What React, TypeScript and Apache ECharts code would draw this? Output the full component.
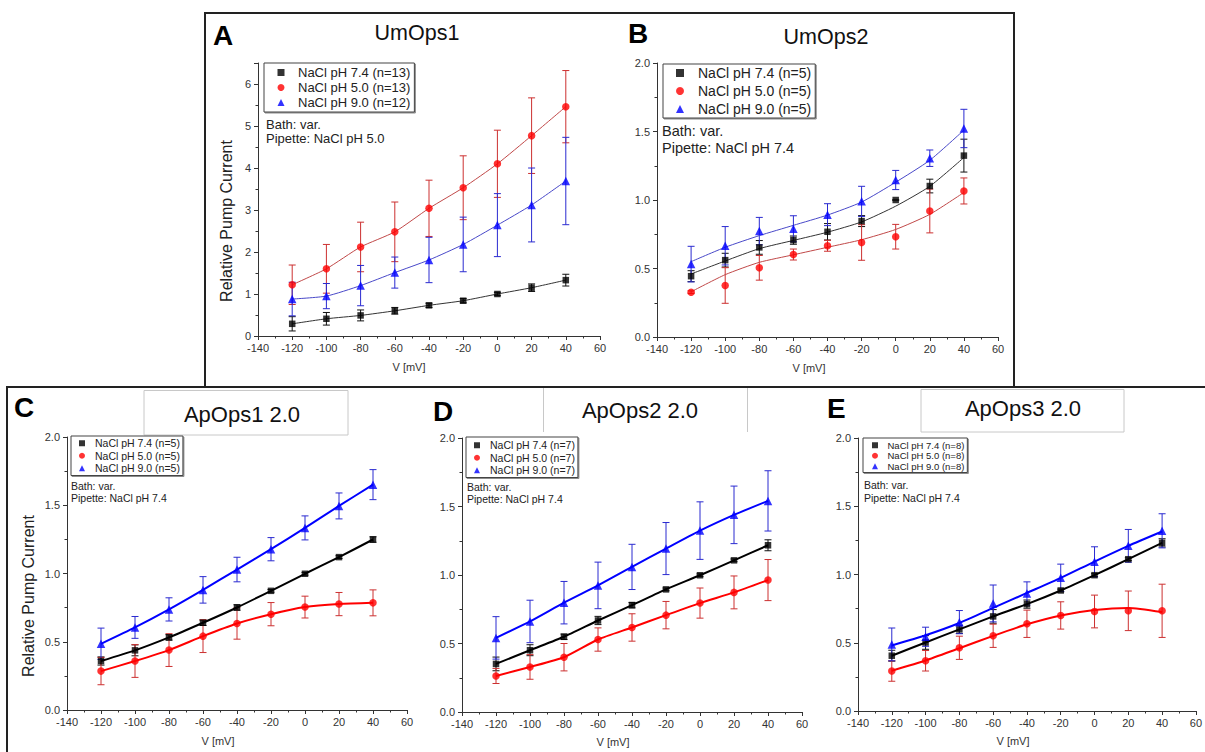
import React, { useEffect, useRef } from "react";
import * as echarts from "echarts";

// ---------- data ----------
const voltages = [-120, -100, -80, -60, -40, -20, 0, 20, 40];
const xTicks = [-140, -120, -100, -80, -60, -40, -20, 0, 20, 40, 60];

const panelLetters = ["A", "B", "C", "D", "E"];
const panelTitles = ["UmOps1", "UmOps2", "ApOps1 2.0", "ApOps2 2.0", "ApOps3 2.0"];
const pipetteNotes = [
  "Pipette: NaCl pH 5.0",
  "Pipette: NaCl pH 7.4",
  "Pipette: NaCl pH 7.4",
  "Pipette: NaCl pH 7.4",
  "Pipette: NaCl pH 7.4",
];
const bathNote = "Bath: var.";
const xAxisTitle = "V [mV]";
const yAxisTitle = "Relative Pump Current";

const namesA = ["NaCl pH 7.4 (n=13)", "NaCl pH 5.0 (n=13)", "NaCl pH 9.0 (n=12)"];
const namesB = ["NaCl pH 7.4 (n=5)", "NaCl pH 5.0 (n=5)", "NaCl pH 9.0 (n=5)"];
const namesC = ["NaCl pH 7.4 (n=5)", "NaCl pH 5.0 (n=5)", "NaCl pH 9.0 (n=5)"];
const namesD = ["NaCl pH 7.4 (n=7)", "NaCl pH 5.0 (n=7)", "NaCl pH 9.0 (n=7)"];
const namesE = ["NaCl pH 7.4 (n=8)", "NaCl pH 5.0 (n=8)", "NaCl pH 9.0 (n=8)"];

// Panel A – UmOps1
const aPH74 = [0.29, 0.41, 0.49, 0.6, 0.73, 0.84, 1.0, 1.15, 1.33];
const aPH74Err = [0.17, 0.15, 0.13, 0.08, 0.05, 0.05, 0.04, 0.09, 0.14];
const aPH50 = [1.22, 1.6, 2.12, 2.48, 3.04, 3.53, 4.1, 4.77, 5.46];
const aPH50Err = [0.47, 0.58, 0.59, 0.71, 0.67, 0.76, 0.8, 0.9, 0.86];
const aPH90 = [0.88, 0.95, 1.2, 1.51, 1.81, 2.18, 2.64, 3.12, 3.69];
const aPH90Err = [0.4, 0.3, 0.48, 0.37, 0.54, 0.65, 0.75, 0.88, 1.04];

// Panel B – UmOps2
const bPH74 = [0.444, 0.561, 0.654, 0.707, 0.768, 0.846, 1.0, 1.102, 1.324];
const bPH74Err = [0.04, 0.05, 0.05, 0.03, 0.06, 0.04, 0.0, 0.05, 0.12];
const bPH50 = [0.327, 0.376, 0.505, 0.602, 0.666, 0.69, 0.732, 0.92, 1.066];
const bPH50Err = [0.01, 0.13, 0.09, 0.04, 0.04, 0.13, 0.09, 0.16, 0.095];
const bPH90 = [0.532, 0.666, 0.773, 0.79, 0.893, 0.99, 1.146, 1.305, 1.522];
const bPH90Err = [0.13, 0.14, 0.1, 0.095, 0.08, 0.11, 0.07, 0.06, 0.14];
const bFit74 = [0.46, 0.555, 0.645, 0.705, 0.765, 0.84, 0.955, 1.1, 1.31];
const bFit50 = [0.33, 0.455, 0.545, 0.6, 0.655, 0.71, 0.785, 0.895, 1.055];
const bFit90 = [0.55, 0.655, 0.74, 0.815, 0.89, 0.985, 1.13, 1.29, 1.51];

// Panel C – ApOps1 2.0
const cPH74 = [0.359, 0.437, 0.532, 0.639, 0.751, 0.873, 0.998, 1.12, 1.249];
const cPH74Err = [0.03, 0.04, 0.02, 0.02, 0.02, 0.01, 0.01, 0.01, 0.02];
const cPH50 = [0.285, 0.359, 0.439, 0.541, 0.634, 0.702, 0.754, 0.776, 0.785];
const cPH50Err = [0.1, 0.12, 0.12, 0.12, 0.115, 0.085, 0.08, 0.085, 0.095];
const cPH90 = [0.485, 0.605, 0.737, 0.88, 1.029, 1.178, 1.334, 1.495, 1.651];
const cPH90Err = [0.115, 0.08, 0.085, 0.097, 0.09, 0.085, 0.088, 0.095, 0.11];

// Panel D – ApOps2 2.0
const dPH74 = [0.351, 0.451, 0.549, 0.668, 0.78, 0.895, 0.998, 1.107, 1.217];
const dPH74Err = [0.05, 0.04, 0.02, 0.03, 0.02, 0.01, 0.01, 0.01, 0.04];
const dPH50 = [0.263, 0.329, 0.4, 0.529, 0.617, 0.707, 0.795, 0.873, 0.963];
const dPH50Err = [0.055, 0.09, 0.1, 0.085, 0.1, 0.1, 0.11, 0.12, 0.15];
const dPH90 = [0.541, 0.661, 0.798, 0.924, 1.059, 1.193, 1.324, 1.439, 1.541];
const dPH90Err = [0.155, 0.155, 0.155, 0.17, 0.165, 0.19, 0.21, 0.21, 0.22];

// Panel E – ApOps3 2.0
const ePH74 = [0.405, 0.502, 0.598, 0.693, 0.783, 0.883, 0.995, 1.112, 1.232];
const ePH74Err = [0.04, 0.05, 0.03, 0.05, 0.03, 0.01, 0.01, 0.01, 0.03];
const ePH50 = [0.293, 0.368, 0.463, 0.551, 0.639, 0.7, 0.729, 0.734, 0.734];
const ePH50Err = [0.075, 0.075, 0.085, 0.085, 0.1, 0.1, 0.12, 0.145, 0.195];
const ePH90 = [0.488, 0.544, 0.651, 0.788, 0.861, 0.976, 1.093, 1.21, 1.32];
const ePH90Err = [0.12, 0.07, 0.085, 0.135, 0.085, 0.1, 0.11, 0.12, 0.125];
const eFit50 = [0.295, 0.37, 0.46, 0.55, 0.635, 0.7, 0.74, 0.755, 0.725];
const eFit90 = [0.48, 0.555, 0.645, 0.755, 0.865, 0.975, 1.095, 1.21, 1.315];

// ---------- layout / styling (not data) ----------
const FONT = 'Arial, "Liberation Sans", Helvetica, sans-serif';

const panels = [
  {
    grid: { left: 258, top: 63, width: 342, height: 273 },
    yMax: 6.5, yInterval: 1, yFmt: (v: number) => (Number.isInteger(v) ? String(v) : ""),
    names: namesA, means: [aPH74, aPH50, aPH90], errs: [aPH74Err, aPH50Err, aPH90Err],
    fits: [aPH74, aPH50, aPH90], thin: true,
    legend: { left: 264, top: 63, pad: [2, 4, 2, 13.5], isz: 7, tp: 8.5, lh: 15, fs: 13 },
    note: { x: 266, y1: 124, y2: 138, fs: 13 },
    title: { x: 417, y: 33, fs: 21.5 }, letter: { x: 213, y: 35 },
    xName: { x: 409, y: 367 }, yName: { x: 226, y: 221 },
  },
  {
    grid: { left: 657, top: 63, width: 341, height: 274 },
    yMax: 2, yInterval: 0.5, yFmt: (v: number) => v.toFixed(1),
    names: namesB, means: [bPH74, bPH50, bPH90], errs: [bPH74Err, bPH50Err, bPH90Err],
    fits: [bFit74, bFit50, bFit90], thin: true,
    legend: { left: 663, top: 64, pad: [0, 4, 0, 13], isz: 8, tp: 9, lh: 18, fs: 14 },
    note: { x: 662, y1: 131, y2: 148, fs: 14.5 },
    title: { x: 826, y: 37, fs: 21.5 }, letter: { x: 628, y: 33 },
    xName: { x: 809, y: 368 }, yName: null,
  },
  {
    grid: { left: 67, top: 437, width: 340, height: 273 },
    yMax: 2, yInterval: 0.5, yFmt: (v: number) => v.toFixed(1),
    names: namesC, means: [cPH74, cPH50, cPH90], errs: [cPH74Err, cPH50Err, cPH90Err],
    fits: [cPH74, cPH50, cPH90], thin: false,
    legend: { left: 71, top: 436, pad: [1, 3, 1, 8], isz: 6, tp: 5, lh: 12.5, fs: 10.5 },
    note: { x: 71, y1: 485.5, y2: 498, fs: 10.5 },
    title: { x: 242, y: 414, fs: 22 }, letter: { x: 14, y: 407 },
    xName: { x: 218, y: 741 }, yName: { x: 28, y: 596 },
  },
  {
    grid: { left: 462, top: 438, width: 340, height: 274 },
    yMax: 2, yInterval: 0.5, yFmt: (v: number) => v.toFixed(1),
    names: namesD, means: [dPH74, dPH50, dPH90], errs: [dPH74Err, dPH50Err, dPH90Err],
    fits: [dPH74, dPH50, dPH90], thin: false,
    legend: { left: 466, top: 437, pad: [2, 3, 1, 8], isz: 6, tp: 5, lh: 12.5, fs: 10.5 },
    note: { x: 467, y1: 487, y2: 499, fs: 10.5 },
    title: { x: 640, y: 410, fs: 22 }, letter: { x: 433, y: 411 },
    xName: { x: 613, y: 742 }, yName: null,
  },
  {
    grid: { left: 858, top: 438, width: 342, height: 273 },
    yMax: 2, yInterval: 0.5, yFmt: (v: number) => v.toFixed(1),
    names: namesE, means: [ePH74, ePH50, ePH90], errs: [ePH74Err, ePH50Err, ePH90Err],
    fits: [ePH74, eFit50, eFit90], thin: false,
    legend: { left: 863, top: 438, pad: [2, 3, 1, 9], isz: 6, tp: 4.5, lh: 10.5, fs: 9.5 },
    note: { x: 864, y1: 484.5, y2: 498, fs: 10.5 },
    title: { x: 1023, y: 408, fs: 22 }, letter: { x: 827, y: 408 },
    xName: { x: 1013, y: 741 }, yName: null,
  },
];

const markerColors = ["#000000", "#ff0000", "#0000ff"];
const symbols = ["rect", "circle", "triangle"];
const symbolSizes = [6.5, 7.5, 8.5];
const thinLineColors = ["#333333", "#c04848", "#4848c8"];
const thickLineColors = ["#000000", "#ff0000", "#0000ff"];
const errColors = ["#111111", "#cc3030", "#2a2ad0"];

function buildOption() {
  const grid: any[] = [];
  const xAxis: any[] = [];
  const yAxis: any[] = [];
  const series: any[] = [];
  const legend: any[] = [];
  const graphic: any[] = [];

  const axisCommon = {
    axisLine: { onZero: false, lineStyle: { color: "#333", width: 1 } },
    axisTick: { length: 4, lineStyle: { color: "#333" } },
    minorTick: { show: true, splitNumber: 2, length: 2.5, lineStyle: { color: "#333" } },
    splitLine: { show: false },
    minorSplitLine: { show: false },
  };

  panels.forEach((p, i) => {
    grid.push({ ...p.grid, containLabel: false });
    xAxis.push({
      type: "value", gridIndex: i, min: xTicks[0], max: xTicks[xTicks.length - 1], interval: 20,
      position: "bottom",
      ...axisCommon,
      axisLabel: { fontSize: 11, color: "#333", margin: 6, fontFamily: FONT },
    });
    yAxis.push({
      type: "value", gridIndex: i, min: 0, max: p.yMax, interval: p.yInterval,
      position: "left",
      ...axisCommon,
      axisLabel: { fontSize: 11, color: "#333", margin: 7, fontFamily: FONT, formatter: p.yFmt },
    });

    for (let j = 0; j < 3; j++) {
      const errColor = errColors[j];
      series.push({
        type: "custom", name: `err-${i}-${j}`, xAxisIndex: i, yAxisIndex: i, z: 2, silent: true,
        data: voltages.map((v, k) => [v, p.means[j][k], p.errs[j][k]]),
        renderItem: (params: any, api: any) => {
          const x = api.value(0);
          const y = api.value(1);
          const e = api.value(2);
          const t = api.coord([x, y + e]);
          const b = api.coord([x, y - e]);
          const hw = 3.5;
          const st = { stroke: errColor, lineWidth: 1 };
          return {
            type: "group",
            children: [
              { type: "line", shape: { x1: t[0], y1: t[1], x2: b[0], y2: b[1] }, style: st },
              { type: "line", shape: { x1: t[0] - hw, y1: t[1], x2: t[0] + hw, y2: t[1] }, style: st },
              { type: "line", shape: { x1: b[0] - hw, y1: b[1], x2: b[0] + hw, y2: b[1] }, style: st },
            ],
          };
        },
      });
      series.push({
        type: "line", name: `fit-${i}-${j}`, xAxisIndex: i, yAxisIndex: i, z: 3, silent: true,
        data: voltages.map((v, k) => [v, p.fits[j][k]]),
        showSymbol: false, smooth: 0.2,
        lineStyle: {
          color: p.thin ? thinLineColors[j] : thickLineColors[j],
          width: p.thin ? 1 : 2,
        },
      });
      series.push({
        type: "scatter", name: p.names[j], xAxisIndex: i, yAxisIndex: i, z: 4,
        data: voltages.map((v, k) => [v, p.means[j][k]]),
        symbol: symbols[j], symbolSize: symbolSizes[j],
        itemStyle: { color: markerColors[j] },
      });
    }

    const L = p.legend;
    legend.push({
      data: p.names, orient: "vertical", left: L.left, top: L.top, padding: L.pad,
      itemWidth: L.isz, itemHeight: L.isz, itemGap: 0, selectedMode: false,
      borderColor: "#444", borderWidth: 1, backgroundColor: "#fff",
      shadowColor: "rgba(0,0,0,0.45)", shadowOffsetX: 1, shadowOffsetY: 1, shadowBlur: 0,
      textStyle: {
        fontSize: L.fs, lineHeight: L.lh, color: "#222", fontFamily: FONT,
        padding: [0, 0, 0, L.tp],
      },
    });

    graphic.push(
      { type: "text", x: p.note.x, y: p.note.y1, style: { text: bathNote, font: `${p.note.fs}px ${FONT}`, fill: "#222", verticalAlign: "middle" } },
      { type: "text", x: p.note.x, y: p.note.y2, style: { text: pipetteNotes[i], font: `${p.note.fs}px ${FONT}`, fill: "#222", verticalAlign: "middle" } },
      { type: "text", x: p.title.x, y: p.title.y, style: { text: panelTitles[i], font: `${p.title.fs}px ${FONT}`, fill: "#111", align: "center", verticalAlign: "middle" } },
      { type: "text", x: p.letter.x, y: p.letter.y, style: { text: panelLetters[i], font: `bold 28px ${FONT}`, fill: "#000", verticalAlign: "middle" } },
      { type: "text", x: p.xName.x, y: p.xName.y, style: { text: xAxisTitle, font: `11px ${FONT}`, fill: "#333", align: "center", verticalAlign: "middle" } },
    );
    if (p.yName) {
      graphic.push({
        type: "text", x: p.yName.x, y: p.yName.y, rotation: Math.PI / 2,
        style: { text: yAxisTitle, font: `16px ${FONT}`, fill: "#222", align: "center", verticalAlign: "middle" },
      });
    }
  });

  // frames and title boxes
  graphic.push(
    { type: "rect", shape: { x: 7, y: 387, width: 1210, height: 380 }, style: { fill: "none", stroke: "#222", lineWidth: 2 }, z: 10 },
    { type: "rect", shape: { x: 205, y: 13, width: 809, height: 374 }, style: { fill: "none", stroke: "#222", lineWidth: 2 }, z: 10 },
    { type: "rect", shape: { x: 144, y: 390.5, width: 204, height: 44.5 }, style: { fill: "none", stroke: "#c8c8c8", lineWidth: 1 } },
    { type: "line", shape: { x1: 543.5, y1: 388, x2: 543.5, y2: 432 }, style: { stroke: "#c8c8c8", lineWidth: 1 } },
    { type: "line", shape: { x1: 747.5, y1: 388, x2: 747.5, y2: 432 }, style: { stroke: "#c8c8c8", lineWidth: 1 } },
    { type: "rect", shape: { x: 921, y: 389.5, width: 203, height: 42.5 }, style: { fill: "none", stroke: "#c8c8c8", lineWidth: 1 } },
  );

  return {
    animation: false,
    backgroundColor: "#ffffff",
    textStyle: { fontFamily: FONT },
    grid, xAxis, yAxis, series, legend, graphic,
  };
}

export default function App() {
  const ref = useRef<HTMLDivElement>(null);
  useEffect(() => {
    if (!ref.current) return;
    const chart = echarts.init(ref.current, null, { renderer: "svg" });
    chart.setOption(buildOption() as any);
    return () => chart.dispose();
  }, []);
  return (
    <div
      ref={ref}
      style={{ position: "absolute", left: 0, top: 0, width: 1205, height: 752, background: "#fff" }}
    />
  );
}
